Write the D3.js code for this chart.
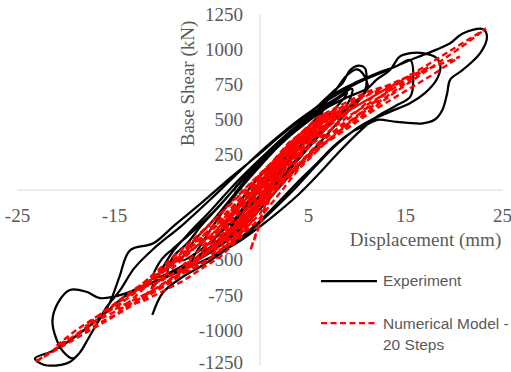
<!DOCTYPE html>
<html><head><meta charset="utf-8">
<script src="https://cdn.jsdelivr.net/npm/d3@7/dist/d3.min.js"></script>
<style>html,body{margin:0;padding:0;background:#fff;}svg{display:block;}</style>
</head><body>
<svg id="chart" width="511" height="372"></svg>
<script>
// ---- data ----
const xTicks = [-25, -15, 5, 15, 25];
const yTicks = [-1250, -1000, -750, -500, -250, 0, 250, 500, 750, 1000, 1250];
const xLabel = "Displacement (mm)";
const yLabel = "Base Shear (kN)";
const seriesNames = ["Experiment", "Numerical Model -", "20 Steps"];

// Experiment: [displacement (mm), base shear (kN)]
const expPoints = [
[0,0],[1,90],[2,170],[3,250],[2.3,160],[1,40],[-1,-110],[-2.5,-220],[-3,-260],[-2,-150],[-0.5,-20],[1,110],[2.5,230],[4,340],[5,420],[4.2,320],[3,200],[1,40],[-1,-140],[-3,-280],[-5,-390],[-4,-280],[-2.5,-130],[-1,20],[1,170],[3,320],[5,450],[6.5,560],[5.5,450],[4,300],[2,120],[0,-60],[-2,-220],[-4,-350],[-6,-450],[-7,-500],[-6,-380],[-4.5,-220],[-2.5,-30],[0,170],[2,320],[4,470],[6,600],[7.5,700],[8.5,760],[9.3,855],[10.2,885],[10.8,870],[11,790],[10.8,700],[10,620],[8.5,520],[7,400],[5,250],[3,100],[1,-60],[-1,-210],[-3,-340],[-5,-440],[-7,-520],[-9,-590],[-10.5,-650],[-11.2,-700],[-10.5,-610],[-9,-440],[-7.5,-320],[-5,-140],[-2.5,50],[0,220],[2.5,380],[5,520],[7,640],[8.2,750],[9,820],[10,860],[10.6,830],[11.1,725],
[10,640],[8,520],[6,380],[4,220],[2,60],[0,-100],[-2,-250],[-4,-380],[-6,-470],[-8,-540],[-9.5,-600],[-9,-480],[-7.5,-380],[-6,-250],[-4,-100],[-2,60],[0,210],[2,350],[4,470],[6,570],[8,660],[9.5,720],[9,610],[7.5,500],[5.5,360],[3.5,200],[1.5,40],[-0.5,-130],[-2.5,-280],[-4.5,-400],[-6.5,-490],[-8.5,-560],[-10,-610],[-11,-620],[-10.2,-500],[-9,-420],[-7,-300],[-5,-170],[-3,-20],[-1,130],[1,270],[3,400],[5,510],[7,600],[9,690],
[8,600],[6,460],[4,300],[2,150],[0,0],[-2,-160],[-4,-300],[-6,-420],[-8,-500],[-7,-380],[-5,-230],[-3,-60],[-1,110],[1,250],[3,380],[5,490],[7,590],[9,660],[11.1,725],
[12,785],[13.4,855],[14.4,950],[15.5,975],[16.8,975],[18.2,940],[18.6,880],[18.2,785],[17,690],[15.5,620],[13.5,560],[11.5,500],[10,440],[8,330],[6,190],[4,40],[2,-100],[0,-230],[-2,-350],[-4,-440],[-6,-510],[-8,-570],[-10,-630],[-12,-690],[-14,-760],[-16,-880],[-18,-990],[-20,-1090],[-21.5,-1150],[-23.2,-1200],[-22.3,-1245],[-20.5,-1245],[-19.6,-1225],[-18.6,-1160],[-17.8,-1070],[-16.8,-950],[-15.5,-805],[-14.5,-620],[-13.4,-430],[-11,-380],[-8.8,-250],[-6,-90],[-3,90],[0,260],[2,380],[4,490],[6,600],[8,700],[10,770],[12,830],[14,880],[15.5,925],[15.8,785],[15.5,665],[14,600],[12,520],[10,400],[8,260],[6,110],[4,-30],[2,-150],[0,-260],[-2,-360],[-4,-440],[-6,-510],[-8,-570],[-10,-630],[-12,-680],[-14,-740],[-16.5,-770],[-17.9,-725],[-19.6,-712],[-20.8,-800],[-21.4,-930],[-21,-1060],[-20.3,-1150],[-19.3,-1200],[-18.6,-1160],[-17.8,-1070],[-16.8,-950],[-15.8,-833],[-14.4,-712],[-13,-560],[-11,-420],[-8,-250],[-5,-60],[-2,140],[1,330],[4,500],[7,640],[10,760],[13,850],[16,940],[18.2,1000],[19.6,1045],[20.9,1115],[23,1145],[23.4,1090],[22.7,975],[20.9,855],[19.6,785],[19.3,690],[18.8,570],[18,500],[16.8,475],[14.1,485],[12.1,500],[11.3,475],[9.3,405],[7.5,306],[5.9,192],[4.1,71],[2,-80],[0,-220],[-2,-340],[-4,-450],[-6,-540],[-8,-620],[-10,-730],[-11.1,-890]
];

// Numerical model: [displacement (mm), base shear (kN)]
const numPoints = [
[0,0],[1,110],[2,200],[1,100],[-1,-100],[-2,-190],[-1,-90],[1,120],[3,290],[4,340],[2,180],[-1,-110],[-3,-270],[-4,-320],[-2,-150],[1,130],[4,360],[6,440],[4,280],[1,20],[-2,-220],[-5,-390],[-6,-430],[-4,-280],[-1,-30],[2,220],[5,420],[8,540],[6,410],[3,170],[0,-100],[-3,-310],[-6,-460],[-8,-540],[-6,-410],[-3,-170],[0,80],[4,360],[7,520],[10,620],[8,480],[5,260],[2,40],
[3,290],[5,380],[3,200],[0,-80],[-2,-280],[-4,-400],[-2,-220],[0,20],[2,260],[4,390],[3,250],[1,40],[-1,-200],[-3,-380],[-5,-460],[-3,-300],[-1,-80],[1,150],[3,330],[5,440],[7,530],[5,360],[2,110],[0,-120],[-2,-310],[-5,-480],[-7,-560],[-5,-400],[-2,-130],[0,100],[3,340],[6,500],[8,580],[6,420],[3,180],[0,-170],[-3,-380],[-6,-530],[-8,-600],[-6,-440],[-3,-200],[0,60],[3,300],[7,540],[9,610],[7,450],[4,230],[1,-60],[-1,-430],[0.5,-120],[2.3,270],[5,450],[7,560],[4,330],[1,60],[-2,-240],[-6,-480],[-9,-620],[-12,-760],[-10,-620],[-7,-430],[-4,-220],[-1,20],[3,330],[6,520],[11,700],[14,760],[12,640],[8,420],[4,150],[0,-200],[-4,-470],[-8,-650],[-12,-790],[-14,-830],[-11,-640],[-7,-400],[-3,-130],[1,160],
[2,250],[4,380],[6,470],[4,300],[1,0],[-1,-240],[-3,-400],[-1,-200],[1,80],[3,300],[5,420],[3,240],[0,-60],[-2,-300],[-4,-430],[-2,-250],[0,-30],[2,200],[4,360],[2,170],
[-1,-180],[-5,-430],[-9,-600],[-11,-640],[-9,-510],[-6,-300],[-2,-20],[2,250],[6,460],[10,640],[12.5,720],[10.5,590],[7,380],[3,120],[-1,-150],[-5,-420],[-10,-640],[-13,-720],[-11,-600],[-7,-360],[-3,-100],[1,180],[5,420],[10,650],[15,800],[13,690],[9,470],[4,170],[0,-120],[-5,-430],[-10,-680],[-15,-850],[-13,-730],[-8,-460],[-3,-170],[1,120],[7,480],[13,720],[17.5,880],[15,760],[10,520],[4,190],[-1,-160],[-7,-540],[-13,-800],[-18,-970],[-16,-860],[-10,-560],[-4,-220],[1,130],[8,520],[15,800],[20.6,950],[18,830],[12,580],[5,250],[-1,-170],[-8,-600],[-15,-890],[-21,-1110],[-19,-1000],[-12,-680],[-5,-320],[1,110],[9,560],[17,880],[23.3,1150],[21,1030],[14,700],[6,300],[-1,-190],[-9,-650],[-17,-980],[-23.2,-1225],[-20,-1080],[-12,-690],[-4,-270],[2,150],[9,520],[16,820]
];

// ---- drawing ----
const svg = d3.select("#chart");
const x = d3.scaleLinear().domain([-25, 25]).range([17.5, 502.5]);
const y = d3.scaleLinear().domain([-1250, 1250]).range([365.5, 14.5]);
const grey = "#595959";
const axisCol = "#d9d9d9";
const serif = "Liberation Serif, Times New Roman, serif";
const sans = "Liberation Sans, Arial, sans-serif";

// axis lines
svg.append("line").attr("x1", x(-25)).attr("x2", x(25)).attr("y1", y(0)).attr("y2", y(0))
  .attr("stroke", axisCol).attr("stroke-width", 1);
svg.append("line").attr("x1", x(0)).attr("x2", x(0)).attr("y1", y(1250)).attr("y2", y(-1250))
  .attr("stroke", axisCol).attr("stroke-width", 1);

// tick labels
svg.append("g").selectAll("text").data(xTicks).join("text")
  .attr("x", d => x(d)).attr("y", y(0) + 32)
  .attr("text-anchor", "middle")
  .attr("font-family", serif).attr("font-size", 19).attr("fill", grey).text(d => d);
svg.append("g").selectAll("text").data(yTicks).join("text")
  .attr("x", x(0) - 17).attr("y", d => Math.min(y(d), 363))
  .attr("dy", "0.33em")
  .attr("text-anchor", "end")
  .attr("font-family", serif).attr("font-size", 19).attr("fill", grey).text(d => d);

// axis titles
svg.append("text").attr("x", 425.5).attr("y", 246)
  .attr("text-anchor", "middle")
  .attr("font-family", serif).attr("font-size", 19).attr("fill", grey).text(xLabel);
svg.append("text")
  .attr("transform", "translate(194,83.5) rotate(-90)")
  .attr("text-anchor", "middle")
  .attr("font-family", serif).attr("font-size", 19).attr("fill", grey).text(yLabel);

// series
const expLine = d3.line().x(d => x(d[0])).y(d => y(d[1])).curve(d3.curveCatmullRom.alpha(0.5));
const numLine = d3.line().x(d => x(d[0])).y(d => y(d[1]));

svg.append("path").datum(expPoints).attr("d", expLine)
  .attr("fill", "none").attr("stroke", "#000").attr("stroke-width", 2.25)
  .attr("stroke-linejoin", "round");
svg.append("path").datum(numPoints).attr("d", numLine)
  .attr("fill", "none").attr("stroke", "#ff0000").attr("stroke-width", 2.4)
  .attr("stroke-dasharray", "6,3.5");

// legend
const lg = svg.append("g");
lg.append("line").attr("x1", 321).attr("x2", 377).attr("y1", 281).attr("y2", 281)
  .attr("stroke", "#000").attr("stroke-width", 2.25);
lg.append("text").attr("x", 383).attr("y", 281).attr("dy", "0.35em")
  .attr("font-family", sans).attr("font-size", 15.5).attr("fill", grey).text(seriesNames[0]);
lg.append("line").attr("x1", 321).attr("x2", 377).attr("y1", 323).attr("y2", 323)
  .attr("stroke", "#ff0000").attr("stroke-width", 2.25).attr("stroke-dasharray", "6,3.5");
lg.append("text").attr("x", 383).attr("y", 324).attr("dy", "0.35em")
  .attr("font-family", sans).attr("font-size", 15.5).attr("fill", grey).text(seriesNames[1]);
lg.append("text").attr("x", 383).attr("y", 345).attr("dy", "0.35em")
  .attr("font-family", sans).attr("font-size", 15.5).attr("fill", grey).text(seriesNames[2]);
</script>
</body></html>
